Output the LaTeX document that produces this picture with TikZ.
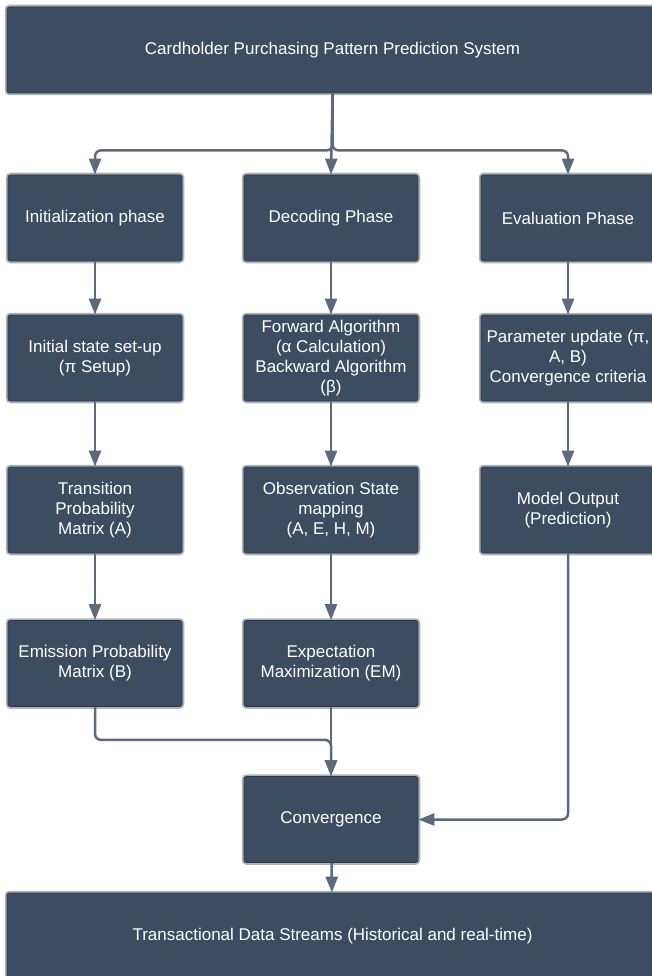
\documentclass[tikz,border=0pt]{standalone}
\usepackage{fontspec}
\setmainfont{Liberation Sans}
\usetikzlibrary{arrows.meta}

\definecolor{fondbloc}{HTML}{3C4D62}
\definecolor{bordbloc}{HTML}{2B3747}
\definecolor{lisere}{HTML}{AEB1B5}
\definecolor{trait}{HTML}{5E6A7B}

\tikzset{
  bloc/.style={rectangle, rounded corners=2.5pt, fill=fondbloc, draw=bordbloc,
    line width=0.8pt, preaction={draw=lisere, line width=4.5pt},
    text=white, align=center, inner sep=2pt,
    minimum width=174pt, minimum height=86pt,
    font=\fontsize{17}{20}\selectfont},
  blocLarge/.style={bloc, minimum width=651pt},
  fleche/.style={draw=trait, line width=2.5pt, rounded corners=6pt,
    -{Triangle[length=16pt,width=12pt]}}
}

\begin{document}
\begin{tikzpicture}[x=1pt,y=-1pt]
        \useasboundingbox (0,0) rectangle (651,976);
        % Système en haut
        \node[blocLarge] (systeme) at (332.5,50) {Cardholder Purchasing Pattern Prediction System};
        % Colonne gauche
        \node[bloc] (init) at (95,218) {Initialization phase};
        \node[bloc] (etat) at (95,358) {Initial state set-up\\(π Setup)};
        \node[bloc] (transition) at (95,510) {Transition\\Probability\\Matrix (A)};
        \node[bloc] (emission) at (95,663.5) {Emission Probability\\Matrix (B)};
        % Colonne du milieu
        \node[bloc] (decodage) at (331,218) {Decoding Phase};
        \node[bloc] (forward) at (331,358) {Forward Algorithm\\(α Calculation)\\Backward Algorithm\\(β)};
        \node[bloc] (observation) at (331,510) {Observation State\\mapping\\(A, E, H, M)};
        \node[bloc] (em) at (331,663.5) {Expectation\\Maximization (EM)};
        % Colonne droite
        \node[bloc] (evaluation) at (568,218) {Evaluation Phase};
        \node[bloc] (parametres) at (568,358) {Parameter update (π,\\A, B)\\Convergence criteria};
        \node[bloc] (sortie) at (568,510) {Model Output\\(Prediction)};
        % Convergence et flux de données
        \node[bloc] (convergence) at (331,819.5) {Convergence};
        \node[blocLarge] (flux) at (332.5,936) {Transactional Data Streams (Historical and real-time)};
        % Branches depuis le système
        \draw[fleche] (systeme.south) -- ++(0,57) -| (init.north);
        \draw[fleche] (systeme.south) -- (decodage.north);
        \draw[fleche] (systeme.south) -- ++(0,57) -| (evaluation.north);
        % Flèches verticales
        \draw[fleche] (init) -- (etat);
        \draw[fleche] (etat) -- (transition);
        \draw[fleche] (transition) -- (emission);
        \draw[fleche] (decodage) -- (forward);
        \draw[fleche] (forward) -- (observation);
        \draw[fleche] (observation) -- (em);
        \draw[fleche] (evaluation) -- (parametres);
        \draw[fleche] (parametres) -- (sortie);
        % Vers la convergence
        \draw[fleche] (emission.south) -- ++(0,33) -| (convergence.north);
        \draw[fleche] (em) -- (convergence);
        \draw[fleche] (sortie.south) |- (convergence.east);
        \draw[fleche] (convergence) -- (flux);
    \end{tikzpicture}
\end{document}
